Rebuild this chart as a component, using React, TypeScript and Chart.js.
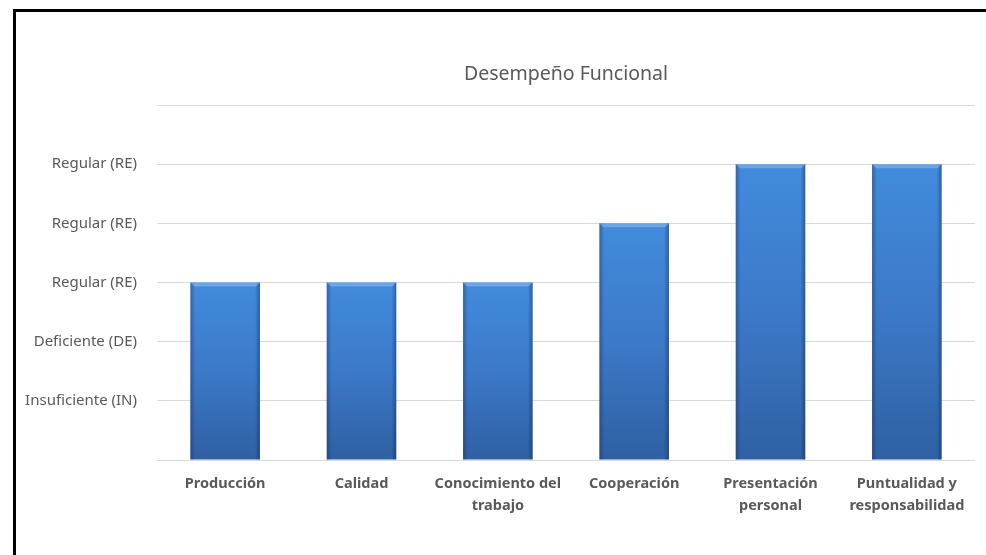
import React, { useEffect, useRef } from "react";
import { Chart, registerables } from "chart.js";

Chart.register(...registerables);

const categories: (string | string[])[] = [
  "Producción",
  "Calidad",
  ["Conocimiento del", "trabajo"],
  "Cooperación",
  ["Presentación", "personal"],
  ["Puntualidad y", "responsabilidad"],
];
const values: number[] = [3, 3, 3, 4, 5, 5];
const yTickLabels: string[] = [
  "",
  "Insuficiente (IN)",
  "Deficiente (DE)",
  "Regular (RE)",
  "Regular (RE)",
  "Regular (RE)",
  "",
];
const chartTitle = "Desempeño Funcional";

const FONT = "'Noto Sans', 'Open Sans', sans-serif";
const GRAY = "#595959";

// Title centred over the plot area (as in the Excel original)
const plotTitlePlugin = {
  id: "plotTitle",
  afterDraw(chart: any) {
    const { ctx, chartArea } = chart;
    if (!chartArea) return;
    ctx.save();
    ctx.fillStyle = GRAY;
    ctx.font = `19.5px ${FONT}`;
    ctx.textAlign = "center";
    ctx.textBaseline = "middle";
    ctx.fillText(chartTitle, (chartArea.left + chartArea.right) / 2, 74);
    ctx.restore();
  },
};

const bevelPlugin = {
  id: "bevel",
  afterDatasetsDraw(chart: any) {
    const ctx = chart.ctx;
    const meta = chart.getDatasetMeta(0);
    meta.data.forEach((bar: any) => {
      const { x, y, base, width } = bar.getProps(["x", "y", "base", "width"], true);
      if (![x, y, base, width].every((n) => Number.isFinite(n))) return;
      const left = x - width / 2;
      const right = x + width / 2;
      const h = base - y;
      ctx.save();
      const g = ctx.createLinearGradient(left, 0, right, 0);
      g.addColorStop(0, "rgba(10,30,70,0.35)");
      g.addColorStop(0.07, "rgba(10,30,70,0.0)");
      g.addColorStop(0.93, "rgba(10,30,70,0.0)");
      g.addColorStop(1, "rgba(10,30,70,0.4)");
      ctx.fillStyle = g;
      ctx.fillRect(left, y, width, h);
      ctx.beginPath();
      ctx.moveTo(left, y);
      ctx.lineTo(right, y);
      ctx.lineTo(right - 4, y + 4);
      ctx.lineTo(left + 4, y + 4);
      ctx.closePath();
      ctx.fillStyle = "rgba(140,190,245,0.55)";
      ctx.fill();
      ctx.restore();
    });
  },
};

export default function App() {
  const ref = useRef<HTMLCanvasElement | null>(null);

  useEffect(() => {
    if (!ref.current) return;
    const chart = new Chart(ref.current, {
      type: "bar",
      data: {
        labels: categories,
        datasets: [
          {
            data: values,
            backgroundColor: (c: any) => {
              const ch = c.chart;
              const ys = ch.scales?.y;
              if (!ys || !c.parsed || c.type !== "data") return "#3B78C4";
              const top = ys.getPixelForValue(c.parsed.y);
              const bottom = ys.getPixelForValue(0);
              if (!Number.isFinite(top) || !Number.isFinite(bottom) || top === bottom) return "#3B78C4";
              const g = ch.ctx.createLinearGradient(0, top, 0, bottom);
              g.addColorStop(0, "#428BDC");
              g.addColorStop(0.5, "#3C79C8");
              g.addColorStop(1, "#2F60A2");
              return g;
            },
            borderWidth: 0,
            barPercentage: 0.51,
            categoryPercentage: 1,
          },
        ],
      },
      options: {
        animation: false,
        responsive: false,
        maintainAspectRatio: false,
        layout: { padding: { left: 0, right: 11, top: 105, bottom: 0 } },
        plugins: {
          legend: { display: false },
          tooltip: { enabled: false },
          title: { display: false },
        },
        scales: {
          x: {
            grid: { display: false, drawTicks: false },
            border: { display: false },
            ticks: {
              color: GRAY,
              font: { family: FONT, size: 14.5, weight: "bold", lineHeight: 1.5 },
              padding: 13,
              maxRotation: 0,
              autoSkip: false,
            },
            afterFit: (s: any) => {
              s.height = 555 - 460;
            },
          },
          y: {
            min: 0,
            max: 6,
            grid: { color: "#D9D9D9", lineWidth: 1, drawTicks: false },
            border: { display: false },
            ticks: {
              stepSize: 1,
              color: GRAY,
              padding: 20,
              font: { family: FONT, size: 15 },
              callback: (v: any) => yTickLabels[Number(v)] ?? "",
            },
            afterFit: (s: any) => {
              s.width = 157;
            },
          },
        },
      },
      plugins: [bevelPlugin, plotTitlePlugin],
    });
    chart.update();
    return () => chart.destroy();
  }, []);

  return (
    <div
      style={{
        position: "absolute",
        left: 0,
        top: 0,
        width: 986,
        height: 555,
        background: "#fff",
        overflow: "hidden",
      }}
    >
      <canvas ref={ref} width={986} height={555} style={{ position: "absolute", left: 0, top: 0 }} />
      <div
        style={{
          position: "absolute",
          left: 13,
          top: 9,
          width: 986,
          height: 600,
          borderLeft: "3px solid #000",
          borderTop: "3px solid #000",
          pointerEvents: "none",
        }}
      />
    </div>
  );
}
